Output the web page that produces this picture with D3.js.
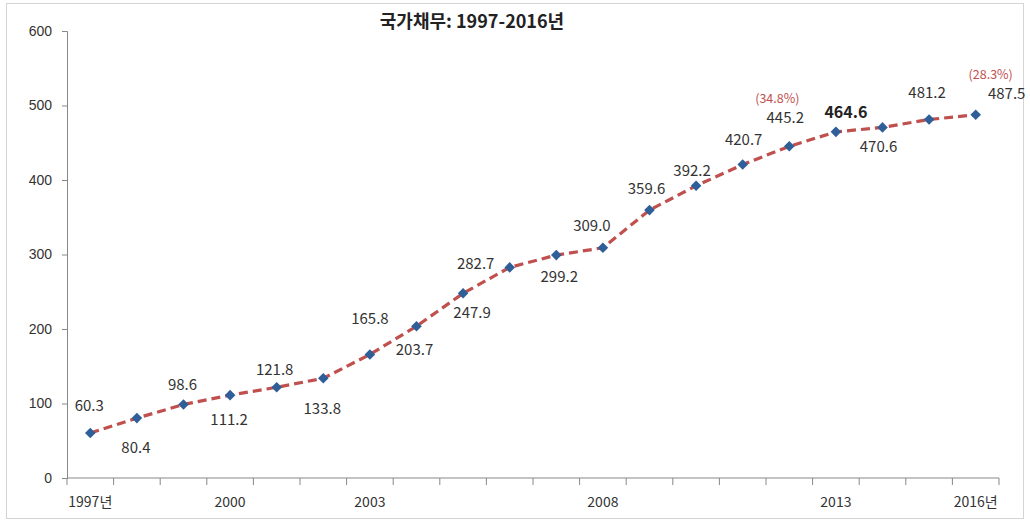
<!DOCTYPE html>
<html>
<head>
<meta charset="utf-8">
<script src="https://cdn.jsdelivr.net/npm/d3@7"></script>
<style>
  body { margin: 0; background: #fff; }
  svg { font-family: "Malgun Gothic", "Noto Sans CJK KR", "Liberation Sans", sans-serif; }
</style>
</head>
<body>
<svg id="chart" width="1030" height="523"></svg>
<script>
// 국가채무 (조원)
const years = d3.range(1997, 2017);
const debt = [60.3, 80.4, 98.6, 111.2, 121.8, 133.8, 165.8, 203.7, 247.9, 282.7,
              299.2, 309.0, 359.6, 392.2, 420.7, 445.2, 464.6, 470.6, 481.2, 487.5];
const yTicks = [0, 100, 200, 300, 400, 500, 600];
const xTickLabels = { 1997: "1997년", 2000: "2000", 2003: "2003", 2008: "2008", 2013: "2013", 2016: "2016년" };
const ratioNotes = [{ year: 2012, text: "(34.8%)" }, { year: 2016, text: "(28.3%)" }];
const title = "국가채무: 1997-2016년";

// label offsets from each point, as they sit in the picture
const labelOffset = [
  [-1, -27], [-1, 29], [-1, -20], [-1, 24], [-2, -18], [-1, 30], [0, -36], [-2, 23],
  [9, 19], [-34, -4], [3, 22], [-11, -22], [-3, -21], [-4, -15], [1, -25], [-4, -29],
  [10, -20], [-4, 19], [-2, -27], [31, -21]
];
const noteOffset = { 2012: [-12, -48], 2016: [15, -40] };

const margin = { top: 31, right: 31, bottom: 45, left: 67 };
const width = 1030 - margin.left - margin.right;
const height = 523 - margin.top - margin.bottom;

const svg = d3.select("#chart");

svg.append("rect")
  .attr("x", 6.5).attr("y", 3.5)
  .attr("width", 1017).attr("height", 515)
  .attr("fill", "none")
  .attr("stroke", "#d4d4d4");

const g = svg.append("g").attr("transform", `translate(${margin.left}, ${margin.top})`);

const x = d3.scaleBand().domain(years).range([0, width]);
const y = d3.scaleLinear().domain([0, 600]).range([height, 0]);
const cx = d => x(d) + x.bandwidth() / 2;

// y axis
const yAxis = g.append("g")
  .call(d3.axisLeft(y).tickValues(yTicks).tickSize(5).tickPadding(10));
yAxis.selectAll("text").attr("font-size", 14).attr("fill", "#333");
yAxis.select(".domain").attr("stroke", "#888");
yAxis.selectAll(".tick line").attr("stroke", "#888");

// x axis, ticks between the categories
const xAxis = g.append("g").attr("transform", `translate(0, ${height})`);
xAxis.append("line")
  .attr("x1", 0).attr("x2", width)
  .attr("stroke", "#888");
xAxis.selectAll("line.tick")
  .data(d3.range(years.length + 1))
  .join("line")
  .attr("class", "tick")
  .attr("x1", i => i * x.step()).attr("x2", i => i * x.step())
  .attr("y1", 0).attr("y2", 7)
  .attr("stroke", "#888");
xAxis.selectAll("text")
  .data(years.filter(d => xTickLabels[d]))
  .join("text")
  .attr("x", cx)
  .attr("y", 29)
  .attr("text-anchor", "middle")
  .attr("font-size", 14)
  .attr("fill", "#333")
  .text(d => xTickLabels[d]);

// line
const line = d3.line()
  .x((d, i) => cx(years[i]))
  .y(d => y(d));

g.append("path")
  .datum(debt)
  .attr("d", line)
  .attr("fill", "none")
  .attr("stroke", "#c0504d")
  .attr("stroke-width", 3.2)
  .attr("stroke-dasharray", "9,5");

// markers: rotated squares
g.selectAll("path.marker")
  .data(debt)
  .join("path")
  .attr("class", "marker")
  .attr("d", d3.symbol().type(d3.symbolSquare).size(56))
  .attr("transform", (d, i) => `translate(${cx(years[i])}, ${y(d)}) rotate(45)`)
  .attr("fill", "#2f5f98");

// value labels
g.selectAll("text.value")
  .data(debt)
  .join("text")
  .attr("class", "value")
  .attr("x", (d, i) => cx(years[i]) + labelOffset[i][0])
  .attr("y", (d, i) => y(d) + labelOffset[i][1])
  .attr("dy", "0.36em")
  .attr("text-anchor", "middle")
  .attr("font-size", (d, i) => years[i] === 2013 ? 16 : 15)
  .attr("font-weight", (d, i) => years[i] === 2013 ? "bold" : "normal")
  .attr("fill", (d, i) => years[i] === 2013 ? "#222" : "#333")
  .text(d => d.toFixed(1));

// ratio notes
g.selectAll("text.note")
  .data(ratioNotes)
  .join("text")
  .attr("class", "note")
  .attr("x", d => cx(d.year) + noteOffset[d.year][0])
  .attr("y", d => y(debt[years.indexOf(d.year)]) + noteOffset[d.year][1])
  .attr("dy", "0.36em")
  .attr("text-anchor", "middle")
  .attr("font-size", 12.5)
  .attr("fill", "#c0504d")
  .text(d => d.text);

// title
svg.append("text")
  .attr("x", 472)
  .attr("y", 22)
  .attr("dy", "0.36em")
  .attr("text-anchor", "middle")
  .attr("font-size", 18)
  .attr("font-weight", "bold")
  .attr("fill", "#222")
  .text(title);
</script>
</body>
</html>
